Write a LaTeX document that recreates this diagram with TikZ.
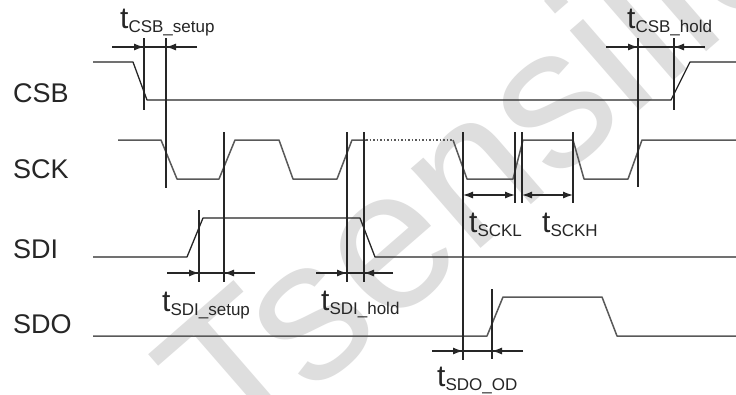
\documentclass[tikz,border=0pt]{standalone}
\usepackage{fontspec}
\setmainfont{Liberation Sans}
\usetikzlibrary{arrows.meta}
\definecolor{wm}{HTML}{DEDEDE}
\definecolor{ink}{HTML}{262626}
\newcommand\tlab[1]{{\fontsize{30}{30}\selectfont t}\raisebox{-4pt}{\fontsize{17}{17}\selectfont #1}}
\begin{document}
\begin{tikzpicture}[x=1pt,y=-1pt,line join=round,
  sig/.style={line width=1.5pt,draw=black!65},
  marker/.style={line width=1.2pt,draw=ink},
  dimline/.style={line width=1.2pt,draw=ink},
  tip/.style={-{Latex[length=10pt,width=7pt]}},
  dtip/.style={{Latex[length=10pt,width=7pt]}-{Latex[length=10pt,width=7pt]}},
  lbl/.style={anchor=base west,inner sep=0,text=ink},
  sname/.style={anchor=base west,inner sep=0,text=ink,font=\fontsize{27}{27}\selectfont}]
\useasboundingbox (0,0) rectangle (736,394);
\fill[white] (0,0) rectangle (736,394);
% watermark
\begin{scope}
\clip (0,0) rectangle (736,394);
\node[anchor=base west,inner sep=0,rotate=41,text=wm,font=\fontsize{200}{200}\selectfont] (wmk) at (235,462) {Tsensilica};
\end{scope}
% signal names
\node[sname] (ncsb) at (13,102) {CSB};
\node[sname] (nsck) at (13,178) {SCK};
\node[sname] (nsdi) at (13,258) {SDI};
\node[sname] (nsdo) at (13,333) {SDO};
% waveforms
\draw[sig,draw=ink,line width=1.3pt] (93,62) -- (133,62) -- (147,100) -- (671,100) -- (690,62) -- (736,62);
\draw[sig] (118,140) -- (161,140) -- (177,179) -- (219,179) -- (235,140) -- (279,140) -- (293,179) -- (337,179) -- (352,140) -- (366,140);
\draw[sig,dotted] (366,140) -- (453,140);
\draw[sig] (453,140) -- (467,179) -- (513,179) -- (523,140) -- (573,140) -- (584,179) -- (628,179) -- (642,140) -- (736,140);
\draw[sig,draw=ink,line width=1.3pt] (93,257) -- (187,257) -- (203,218) -- (360,218) -- (375,257) -- (736,257);
\draw[sig] (93,336) -- (487,336) -- (503,297) -- (602,297) -- (617,336) -- (736,336);
% markers
\coordinate (m1t) at (144,38);  \coordinate (m1b) at (144,110);
\coordinate (m2t) at (166,38);  \coordinate (m2b) at (166,188);
\coordinate (m3t) at (638,38);  \coordinate (m3b) at (638,187);
\coordinate (m4t) at (674,38);  \coordinate (m4b) at (674,110);
\coordinate (m5t) at (199,210); \coordinate (m5b) at (199,282);
\coordinate (m6t) at (224,132); \coordinate (m6b) at (224,282);
\coordinate (m7t) at (347,132); \coordinate (m7b) at (347,282);
\coordinate (m8t) at (364,132); \coordinate (m8b) at (364,282);
\coordinate (m9t) at (463,132); \coordinate (m9b) at (463,360);
\coordinate (m10t) at (515,132); \coordinate (m10b) at (515,203);
\coordinate (m11t) at (522,132); \coordinate (m11b) at (522,203);
\coordinate (m12t) at (573,132); \coordinate (m12b) at (573,203);
\coordinate (m13t) at (492,289); \coordinate (m13b) at (492,359);
\foreach \i in {1,...,13} {\draw[marker] (m\i t) -- (m\i b);}
% dimension arrows
\coordinate (a1l) at (112,47); \coordinate (a1p) at (144,47); \coordinate (a1q) at (166,47); \coordinate (a1r) at (197,47);
\draw[dimline] (a1l) -- (a1r);
\draw[dimline,tip] (a1l) -- (a1p); \draw[dimline,tip] (a1r) -- (a1q);
\coordinate (a2l) at (606,47); \coordinate (a2p) at (638,47); \coordinate (a2q) at (674,47); \coordinate (a2r) at (705,47);
\draw[dimline] (a2l) -- (a2r);
\draw[dimline,tip] (a2l) -- (a2p); \draw[dimline,tip] (a2r) -- (a2q);
\coordinate (a3l) at (167,273); \coordinate (a3p) at (199,273); \coordinate (a3q) at (224,273); \coordinate (a3r) at (255,273);
\draw[dimline] (a3l) -- (a3r);
\draw[dimline,tip] (a3l) -- (a3p); \draw[dimline,tip] (a3r) -- (a3q);
\coordinate (a4l) at (316,273); \coordinate (a4p) at (347,273); \coordinate (a4q) at (364,273); \coordinate (a4r) at (393,273);
\draw[dimline] (a4l) -- (a4r);
\draw[dimline,tip] (a4l) -- (a4p); \draw[dimline,tip] (a4r) -- (a4q);
\coordinate (a5l) at (432,351); \coordinate (a5p) at (463,351); \coordinate (a5q) at (492,351); \coordinate (a5r) at (523,351);
\draw[dimline] (a5l) -- (a5r);
\draw[dimline,tip] (a5l) -- (a5p); \draw[dimline,tip] (a5r) -- (a5q);
\coordinate (a6l) at (463,195); \coordinate (a6r) at (515,195);
\draw[dimline,dtip] (a6l) -- (a6r);
\coordinate (a7l) at (522,195); \coordinate (a7r) at (573,195);
\draw[dimline,dtip] (a7l) -- (a7r);
% timing labels
\node[lbl] (lcsbs) at (120,28) {\tlab{CSB\_setup}};
\node[lbl] (lcsbh) at (627,28) {\tlab{CSB\_hold}};
\node[lbl] (lsdis) at (162,311) {\tlab{SDI\_setup}};
\node[lbl] (lsdih) at (321,310) {\tlab{SDI\_hold}};
\node[lbl] (lsckl) at (469,232) {\tlab{SCKL}};
\node[lbl] (lsckh) at (542,232) {\tlab{SCKH}};
\node[lbl] (lsdod) at (437,386) {\tlab{SDO\_OD}};
\end{tikzpicture}
\end{document}
